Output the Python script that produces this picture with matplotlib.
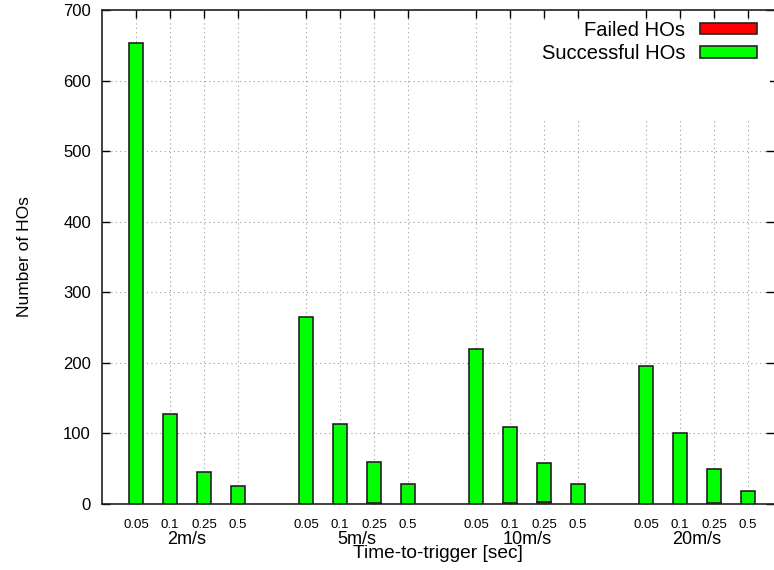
import numpy as np
from matplotlib import pyplot as plt
from matplotlib.patches import Patch, Rectangle

plt.rcParams["font.family"] = ["Liberation Sans", "DejaVu Sans"]

speeds = ["2m/s", "5m/s", "10m/s", "20m/s"]
ttt_labels = ["0.05", "0.1", "0.25", "0.5"]

# successful / failed handovers per speed, one entry per time-to-trigger
successful = {
    "2m/s": [653, 128, 46, 25],
    "5m/s": [265, 113, 59, 28],
    "10m/s": [220, 108, 55, 28],
    "20m/s": [196, 101, 49, 19],
}
failed = {
    "2m/s": [0, 0, 0, 0],
    "5m/s": [0, 0, 1, 0],
    "10m/s": [0, 1, 3, 0],
    "20m/s": [0, 0, 1, 0],
}

fig = plt.figure(figsize=(7.74, 5.70), dpi=100)
ax = fig.add_axes([0.1318, 0.1158, 1 - 0.1318, 0.8667])

positions = []
for g, speed in enumerate(speeds):
    x = g * 5 + np.arange(len(ttt_labels))
    positions.extend(x)
    f = np.array(failed[speed])
    s = np.array(successful[speed])
    ax.bar(x, f, width=0.42, color="#ff0000", edgecolor="#222222", linewidth=1.2, zorder=3)
    ax.bar(x, s, width=0.42, bottom=f, color="#00ff00", edgecolor="#222222", linewidth=1.2, zorder=3)

ax.set_xlim(-1, (774 - 136) / 34)
ax.set_ylim(0, 700)
ax.set_yticks(np.arange(0, 701, 100))
ax.set_xticks(positions)
ax.set_xticklabels(ttt_labels * len(speeds), fontsize=9.5)
ax.tick_params(axis="x", direction="in", top=True, length=6, pad=11, width=1)
ax.tick_params(axis="y", direction="in", right=True, length=6, labelsize=12, pad=8, width=1)

for sp in ax.spines.values():
    sp.set_linewidth(1.2)
    sp.set_color("#222222")
ax.spines["right"].set_visible(False)

ax.grid(True, linestyle=(0, (1, 3)), color="#999999", linewidth=0.8, zorder=0)
ax.set_axisbelow(True)

# blank area behind the key, the grid stays hidden there
ax.add_patch(Rectangle((0.614, 0.78), 0.38, 0.195, transform=ax.transAxes,
                       facecolor="white", edgecolor="none", zorder=1))

for g, speed in enumerate(speeds):
    ax.text(g * 5 + 1.5, -50, speed, ha="center", va="center", fontsize=13)

ax.set_ylabel("Number of HOs", fontsize=12.5, labelpad=22)
fig.text(438 / 774, 1 - 553 / 570, "Time-to-trigger [sec]", ha="center", va="center", fontsize=13.8)

handles = [
    Patch(facecolor="#ff0000", edgecolor="#222222", linewidth=1.2),
    Patch(facecolor="#00ff00", edgecolor="#222222", linewidth=1.2),
]
leg = ax.legend(handles, ["Failed HOs", "Successful HOs"], loc="upper right",
                bbox_to_anchor=(0.9866, 0.995), markerfirst=False, fontsize=14.5,
                handlelength=2.85, handleheight=0.5, handletextpad=0.7,
                labelspacing=0.22, frameon=False, borderpad=0.4,
                borderaxespad=0)
for t in leg.get_texts():
    t.set_ha("right")
leg.set_zorder(5)

plt.savefig("out.png", dpi=100)
